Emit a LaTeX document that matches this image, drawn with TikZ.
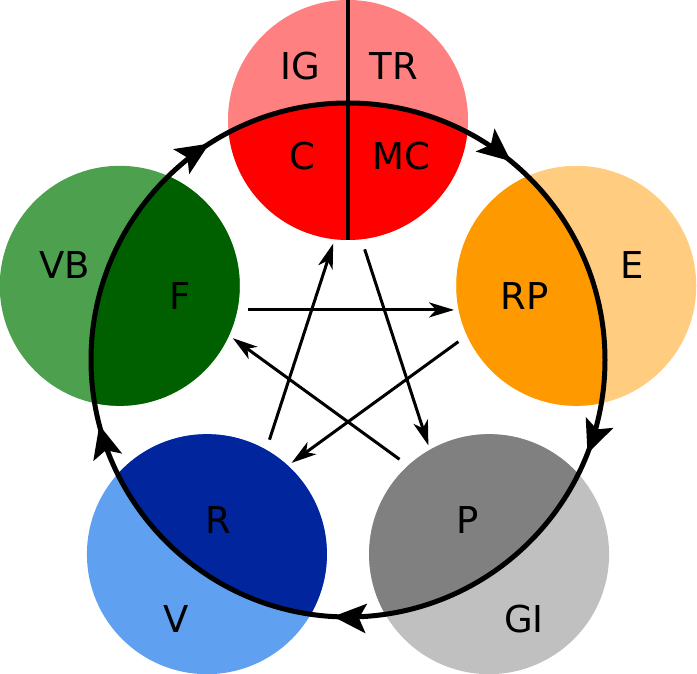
\documentclass[tikz,border=0pt]{standalone}
\usepackage{fontspec}
\setmainfont{DejaVu Sans}
\usetikzlibrary{arrows.meta,decorations.markings,calc}
\definecolor{redL}{HTML}{FF8080}
\definecolor{redD}{HTML}{FF0000}
\definecolor{orangeL}{HTML}{FFCC80}
\definecolor{orangeD}{HTML}{FF9900}
\definecolor{greenL}{HTML}{4DA04D}
\definecolor{greenD}{HTML}{006000}
\definecolor{blueL}{HTML}{5FA0F0}
\definecolor{blueD}{HTML}{00259D}
\definecolor{grayL}{HTML}{C0C0C0}
\definecolor{grayD}{HTML}{808080}
\tikzset{cyctip/.tip={Stealth[length=33pt,width=29pt,inset=7pt]}}
\begin{document}
\begin{tikzpicture}[x=1pt,y=1pt,
  elem/.style 2 args={circle, minimum size=240pt, inner sep=0pt, outer sep=0pt, fill=#1,
    path picture={\fill[#2] (O) circle (257);}},
  lbl/.style={inner sep=0pt, font=\fontsize{37}{40}\selectfont},
  starline/.style={line width=3pt, -{Stealth[length=25pt,width=15pt,inset=7pt]},
    shorten <=54pt, shorten >=48pt},
  cycline/.style={line width=5pt, postaction={decorate},
    decoration={markings,
      mark=at position 0.0593 with {\arrow{cyctip}},
      mark=at position 0.2593 with {\arrow{cyctip}},
      mark=at position 0.4593 with {\arrow{cyctip}},
      mark=at position 0.6593 with {\arrow{cyctip}},
      mark=at position 0.8593 with {\arrow{cyctip}}}}]
\useasboundingbox (0,0) rectangle (697,674);
\coordinate (O) at (348,314);
% element circles
\node[elem={redL}{redD}]       (fire)  at ($(O)+(90:240)$)   {};
\node[elem={orangeL}{orangeD}] (earth) at ($(O)+(18:240)$)   {};
\node[elem={grayL}{grayD}]     (metal) at ($(O)+(-54:240)$)  {};
\node[elem={blueL}{blueD}]     (water) at ($(O)+(-126:240)$) {};
\node[elem={greenL}{greenD}]   (wood)  at ($(O)+(162:240)$)  {};
% divider in the top circle
\draw[line width=3.5pt] (fire.north) -- (fire.south);
% generating cycle
\draw[cycline] ($(O)+(0:257)$) arc[start angle=0, end angle=-360, radius=257];
% controlling star
\coordinate (sA) at ($(O)+(90:162)$);
\coordinate (sB) at ($(O)+(18:162)$);
\coordinate (sC) at ($(O)+(-54:162)$);
\coordinate (sD) at ($(O)+(-126:162)$);
\coordinate (sE) at ($(O)+(162:162)$);
\draw[starline] (sE) -- (sB);
\draw[starline] (sB) -- (sD);
\draw[starline] (sD) -- (sA);
\draw[starline] (sA) -- (sC);
\draw[starline] (sC) -- (sE);
% labels
\node[lbl] (tIG) at (300,608) {IG};
\node[lbl] (tTR) at (394,608) {TR};
\node[lbl] (tC)  at (302,518) {C};
\node[lbl] (tMC) at (401,518) {MC};
\node[lbl] (tE)  at (632,409) {E};
\node[lbl] (tRP) at (525,378) {RP};
\node[lbl] (tVB) at (65,409)  {VB};
\node[lbl] (tF)  at (180,378) {F};
\node[lbl] (tR)  at (218,154) {R};
\node[lbl] (tV)  at (176,55)  {V};
\node[lbl] (tP)  at (468,154) {P};
\node[lbl] (tGI) at (524,55)  {GI};
\end{tikzpicture}
\end{document}
